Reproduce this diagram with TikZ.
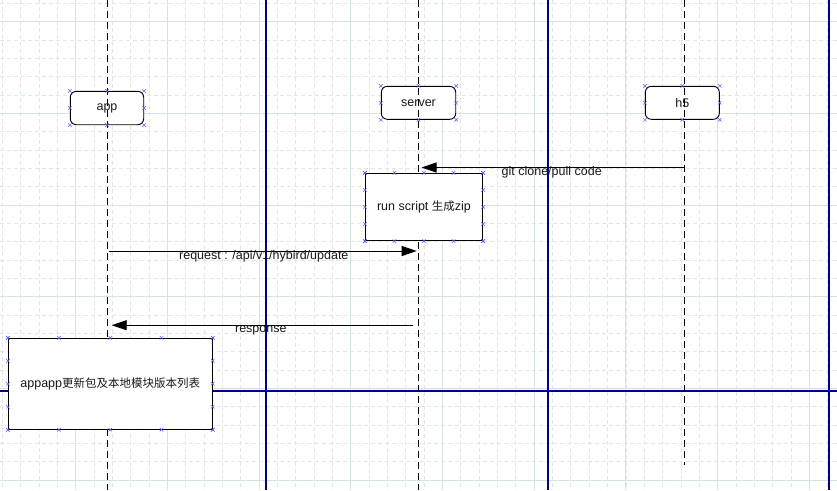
\documentclass[tikz,border=0pt]{standalone}
\usepackage{fontspec}
\setmainfont{Liberation Sans}
\newfontfamily\cjk{Noto Sans CJK SC}[Scale=0.92]
\usetikzlibrary{arrows.meta,calc,shapes.misc}
\definecolor{gridc}{RGB}{214,227,224}
\definecolor{gridm}{RGB}{222,233,230}
\definecolor{navyl}{RGB}{0,0,140}
\definecolor{mkblue}{RGB}{90,90,255}
\definecolor{txt}{RGB}{25,25,25}
\tikzset{
  minorg/.style={draw=gridm, line width=0.7pt, dash pattern=on 4pt off 3pt},
  majorg/.style={draw=gridc, line width=0.9pt},
  navyline/.style={draw=navyl, line width=1.2pt},
  actor/.style={draw=black, fill=white, line width=0.9pt, rounded corners=6pt, inner sep=0pt, font=\fontsize{12.5}{14}\selectfont, text=txt},
  procbox/.style={draw=black, fill=white, line width=0.9pt, inner sep=0pt, font=\fontsize{12.5}{14}\selectfont, text=txt},
  lifeline/.style={draw=black, line width=1pt, dash pattern=on 7pt off 4pt},
  msg/.style={draw=black, line width=0.9pt, -{Triangle[length=15pt,width=10pt]}},
  msglabel/.style={inner sep=0pt, font=\fontsize{12.5}{14}\selectfont, text=txt},
  mk/.style={cross out, draw=mkblue, line width=0.5pt, minimum size=3pt, inner sep=0pt}
}
\begin{document}
\begin{tikzpicture}[x=1pt,y=-1pt]
\useasboundingbox (0,0) rectangle (837,490);
\fill[white] (0,0) rectangle (837,490);
% grid
\foreach \i in {0,...,45} \draw[minorg] ({2.3+18.34*\i},0) -- ++(0,490);
\foreach \i in {0,...,26} \draw[minorg] (0,{3.3+18.34*\i}) -- ++(837,0);
\foreach \i in {1,...,9} \draw[majorg] ({-16+91.7*\i},0) -- ++(0,490);
\foreach \i in {0,...,5} \draw[majorg] (0,{21.7+91.7*\i}) -- ++(837,0);
% blue lines
\draw[navyline] (266,0) -- (266,490);
\draw[navyline] (548,0) -- (548,490);
\draw[navyline] (829,0) -- (829,490);
\draw[navyline] (0,391) -- (837,391);
% actors
\node[actor, minimum width=73.4pt, minimum height=33.4pt] (app) at (107,108) {app};
\node[actor, minimum width=74.4pt, minimum height=33pt] (server) at (418.5,102.8) {server};
\node[actor, minimum width=74pt, minimum height=33pt] (h5) at (682.3,102.8) {h5};
% lifelines
\coordinate (appTop) at (107.3,0);
\coordinate (appBot) at (107.3,490);
\coordinate (srvTop) at (418,0);
\coordinate (srvBot) at (418,490);
\coordinate (h5Top) at (684.5,0);
\coordinate (h5Bot) at (684.5,465);
\draw[lifeline] (appTop) -- (appBot);
\draw[lifeline] (srvTop) -- (srvBot);
\draw[lifeline] (h5Top) -- (h5Bot);
% process boxes
\node[procbox, minimum width=117.4pt, minimum height=67.4pt] (run) at (424,207) {run script {\cjk 生成}zip};
\node[procbox, minimum width=204pt, minimum height=91pt] (upd) at (110.3,383.8) {appapp{\cjk 更新包及本地模块版本列表}};
% messages
\coordinate (gitS) at (684.5,167.5);
\coordinate (gitE) at (421.5,167.5);
\draw[msg] (gitS) -- (gitE);
\node[msglabel] (gitL) at (551.7,172) {git clone/pull code};
\coordinate (reqS) at (109,251);
\coordinate (reqE) at (416.7,251);
\draw[msg] (reqS) -- (reqE);
\node[msglabel] (reqL) at (263.8,256) {request : /api/v1/hybird/update};
\coordinate (resS) at (413.3,325.2);
\coordinate (resE) at (111.7,325.2);
\draw[msg] (resS) -- (resE);
\node[msglabel] (resL) at (260.8,330) {response};
% connection markers
\foreach \n in {app,server,h5} {
  \foreach \a in {north west,north,north east,east,south east,south,south west,west}
    \node[mk] at (\n.\a) {};
}
\foreach \n in {run,upd} {
  \foreach \f in {0,0.25,0.5,0.75,1} {
    \path ($(\n.north west)!\f!(\n.north east)$) node[mk] {};
    \path ($(\n.south west)!\f!(\n.south east)$) node[mk] {};
    \path ($(\n.north west)!\f!(\n.south west)$) node[mk] {};
    \path ($(\n.north east)!\f!(\n.south east)$) node[mk] {};
  }
}
\end{tikzpicture}
\end{document}
